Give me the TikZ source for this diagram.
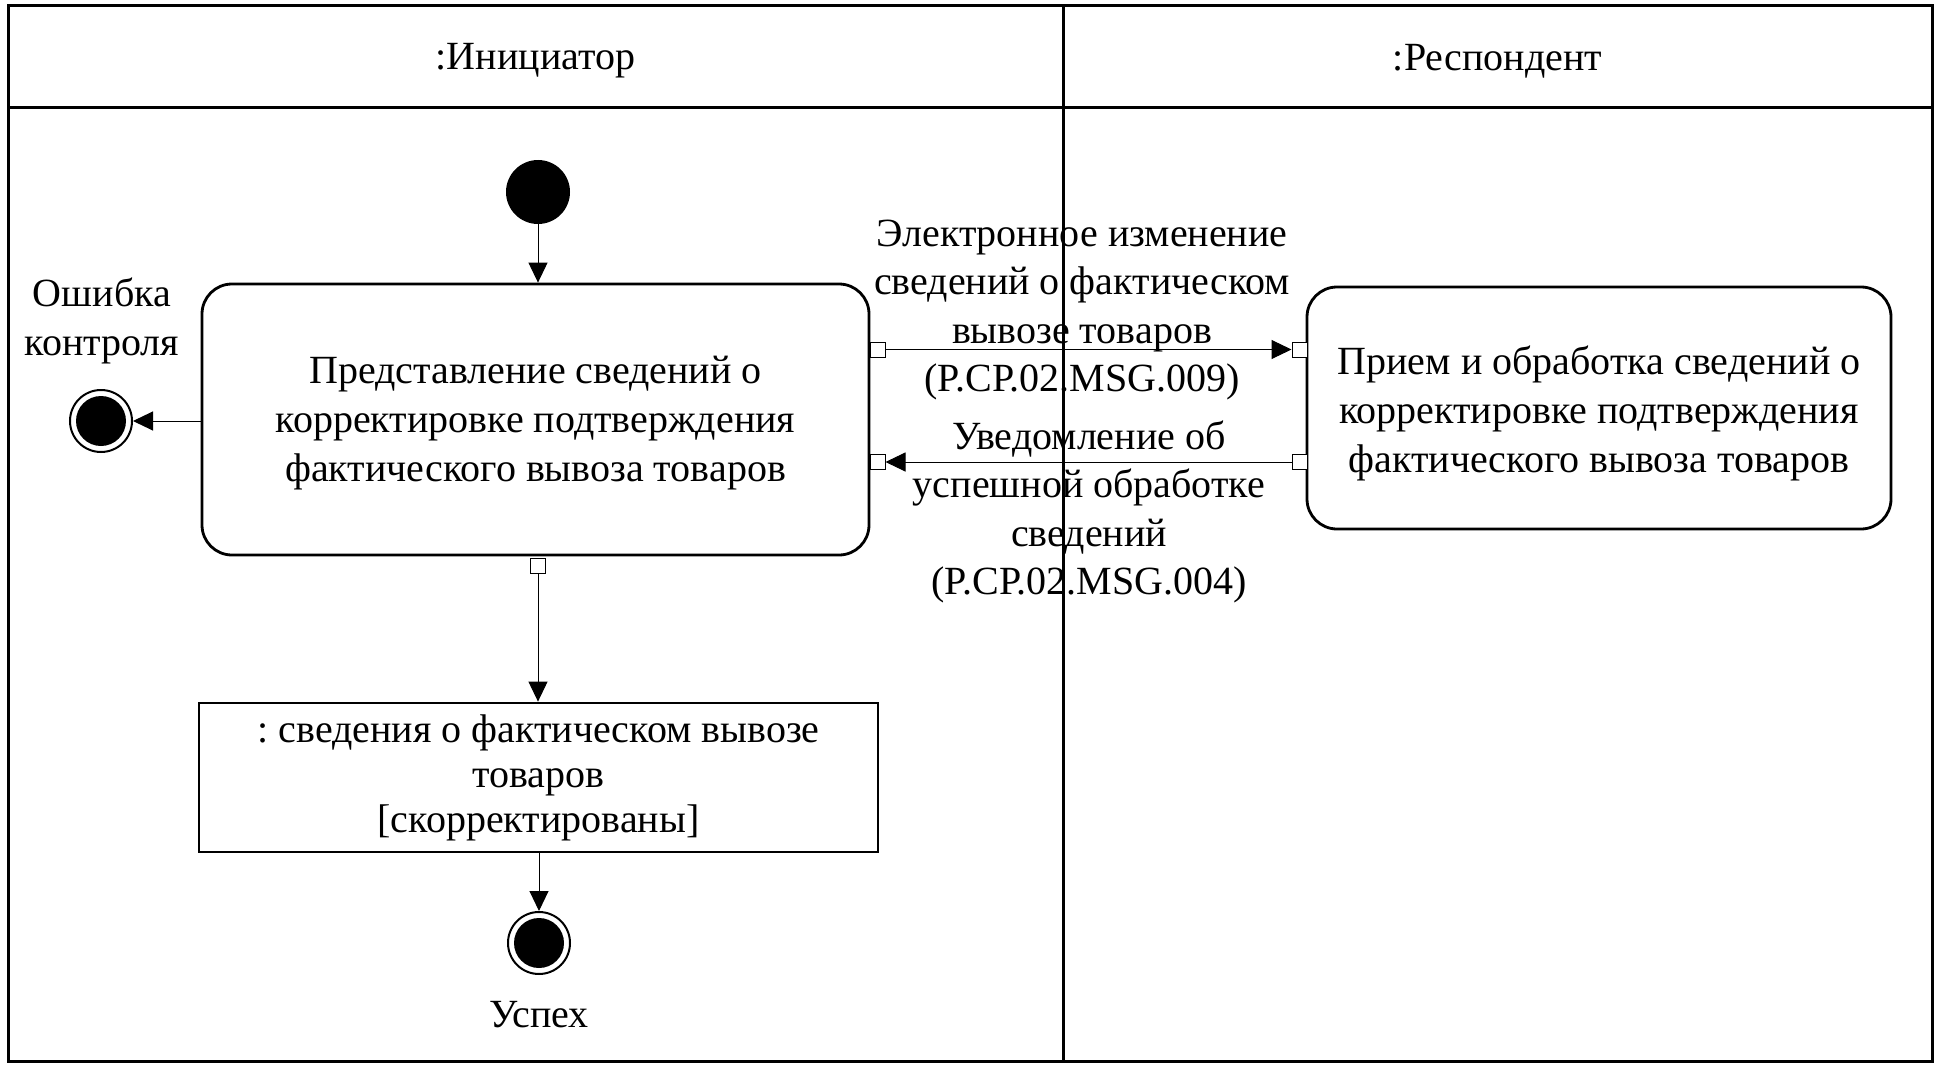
\documentclass[tikz,border=0pt]{standalone}
\usepackage{fontspec}
\setmainfont{Liberation Serif}
\usetikzlibrary{arrows.meta}
\frenchspacing
\begin{document}
\begin{tikzpicture}[x=0.5pt,y=-0.5pt,
  lane/.style={line width=1.5pt},
  txt/.style={align=center, inner sep=0pt, font=\fontsize{20}{24.2}\selectfont},
  boxtxt/.style={align=center, inner sep=0pt, font=\fontsize{20}{24.5}\selectfont},
  action/.style={draw, line width=1.4pt, rounded corners=15pt, inner sep=0pt},
  objnode/.style={draw, line width=1.4pt, align=center, inner sep=0pt, font=\fontsize{20}{22.5}\selectfont},
  port/.style={draw, line width=0.5pt, fill=white, minimum size=7.5pt, inner sep=0pt},
  flow/.style={line width=0.5pt, -{Triangle[length=10pt,width=9.5pt]}},
  initnode/.style={circle, fill=black, minimum size=32pt, inner sep=0pt},
  finalnode/.style={circle, draw, line width=1pt, minimum size=31pt, inner sep=0pt,
    path picture={\fill (path picture bounding box.center) circle (12.5pt);}}
]
\useasboundingbox (0,0) rectangle (1939,1070);
% swimlanes
\draw[lane] (8,6) rectangle (1932,1061);
\draw[lane] (8,108) -- (1932,108);
\draw[lane] (1063,6) -- (1063,1061);
\node[txt] (h1) at (535.5,61) {:Инициатор};
\node[txt] (h2) at (1497.5,61) {:Респондент};
% nodes
\node[initnode] (start) at (538,192) {};
\node[action, minimum width=333.5pt, minimum height=135.5pt,
  label={[boxtxt, name=a1t, yshift=-2pt]center:{Представление сведений о\\корректировке подтверждения\\фактического вывоза товаров}}]
  (a1) at (535.5,419.5) {};
\node[action, minimum width=292pt, minimum height=121pt,
  label={[boxtxt, name=a2t, yshift=-2.5pt]center:{Прием и обработка сведений о\\корректировке подтверждения\\фактического вывоза товаров}}]
  (a2) at (1599,408) {};
\node[objnode, minimum width=339.5pt, minimum height=74.5pt] (obj) at (538.5,777.5)
  {: сведения о фактическом вывозе\\товаров\\{[}скорректированы{]}};
\node[finalnode] (err) at (101,421) {};
\node[finalnode] (ok) at (539,943) {};
\node[txt] (errlbl) at (102,321) {Ошибка\\контроля};
\node[txt] (oklbl) at (539,1015) {Успех};
% ports
\node[port] (p1) at (877.5,349.5) {};
\node[port] (p2) at (1299.5,349.5) {};
\node[port] (p3) at (1299.5,462) {};
\node[port] (p4) at (877.5,462) {};
\node[port] (p5) at (538,566) {};
% connectors
\draw[flow] (start) -- (start |- a1.north);
\draw[flow] (err -| a1.west) -- (err);
\draw[flow] (p1) -- (p2);
\draw[flow] (p3) -- (p4);
\draw[flow] (p5) -- (p5 |- obj.north);
\draw[flow] (ok |- obj.south) -- (ok);
% message labels
\node[txt] (m1) at (1082,310) {Электронное изменение\\сведений о фактическом\\вывозе товаров\\(P.CP.02.MSG.009)};
\node[txt] (m2) at (1089,512) {Уведомление об\\успешной обработке\\сведений\\(P.CP.02.MSG.004)};
\end{tikzpicture}
\end{document}
